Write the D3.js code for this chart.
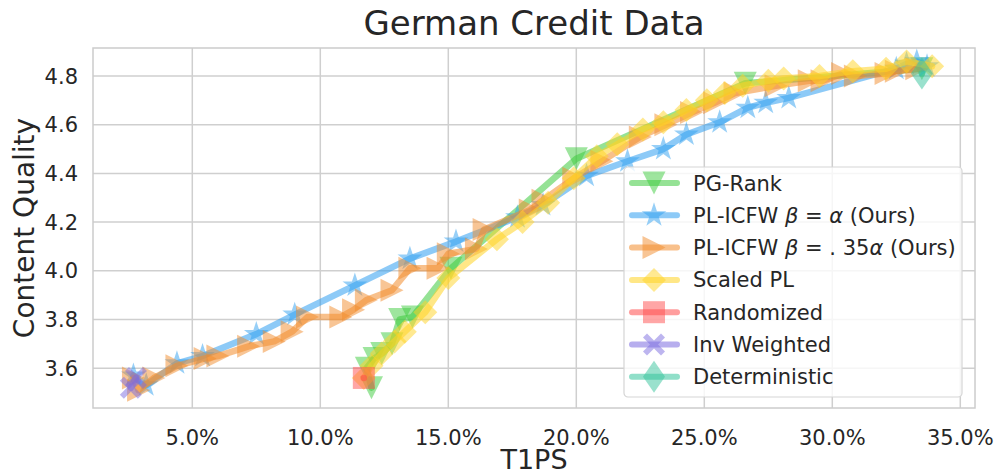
<!DOCTYPE html>
<html>
<head>
<meta charset="utf-8">
<script src="https://cdn.jsdelivr.net/npm/d3@7"></script>
<style>
  body { margin: 0; background: #fff; }
  text { font-family: "DejaVu Sans", sans-serif; fill: #262626; }
</style>
</head>
<body>
<div id="chart"></div>
<script>
// values (x in fraction, y content quality)
const seriesNames = ["PG-Rank", "PL-ICFW β=α (Ours)", "PL-ICFW β=.35α (Ours)", "Scaled PL",
  "Randomized", "Inv Weighted", "Deterministic"];

const pgRankX = [0.120, 0.118, 0.121, 0.124, 0.128, 0.131, 0.136, 0.151, 0.200, 0.266, 0.335];
const pgRankY = [3.52, 3.60, 3.64, 3.66, 3.70, 3.80, 3.81, 4.01, 4.46, 4.77, 4.83];

const icfwX = [0.027, 0.032, 0.044, 0.054, 0.075, 0.090, 0.1135, 0.135, 0.153, 0.177, 0.187,
  0.204, 0.220, 0.234, 0.243, 0.256, 0.267, 0.274, 0.283, 0.325, 0.329, 0.333, 0.337];
const icfwY = [3.57, 3.53, 3.62, 3.65, 3.74, 3.82, 3.94, 4.05, 4.12, 4.22, 4.27,
  4.39, 4.45, 4.50, 4.56, 4.61, 4.67, 4.69, 4.71, 4.83, 4.85, 4.86, 4.84];

const icfw35X = [0.027, 0.029, 0.035, 0.044, 0.055, 0.060, 0.072, 0.082, 0.089, 0.095, 0.108,
  0.113, 0.118, 0.128, 0.135, 0.146, 0.150, 0.161, 0.164, 0.182, 0.187, 0.199, 0.210, 0.225,
  0.235, 0.245, 0.254, 0.262, 0.278, 0.291, 0.296, 0.304, 0.309, 0.321, 0.325, 0.333];
const icfw35Y = [3.56, 3.51, 3.56, 3.61, 3.64, 3.65, 3.69, 3.71, 3.75, 3.81, 3.81,
  3.84, 3.88, 3.92, 4.01, 4.01, 4.07, 4.09, 4.17, 4.25, 4.29, 4.38, 4.45, 4.55,
  4.60, 4.65, 4.69, 4.73, 4.76, 4.78, 4.78, 4.81, 4.80, 4.81, 4.82, 4.83];

const scaledX = [0.117, 0.120, 0.124, 0.129, 0.133, 0.141, 0.150, 0.169, 0.179, 0.189, 0.199,
  0.208, 0.216, 0.226, 0.234, 0.243, 0.251, 0.258, 0.265, 0.275, 0.281, 0.295, 0.308, 0.321,
  0.329, 0.339];
const scaledY = [3.56, 3.61, 3.66, 3.71, 3.75, 3.83, 3.97, 4.13, 4.20, 4.28, 4.38,
  4.47, 4.52, 4.58, 4.61, 4.66, 4.70, 4.73, 4.76, 4.78, 4.79, 4.80, 4.82, 4.83,
  4.86, 4.84];

const randomX = [0.117];
const randomY = [3.56];

const invX = [0.026, 0.028];
const invY = [3.52, 3.56];

const detX = [0.335];
const detY = [4.81];

const seriesColors = ["#3ecb3e", "#2f9ff0", "#f28c2c", "#ffd324", "#ff4d4d", "#7b6be0", "#35c49c"];
const seriesMarkers = ["tridown", "star", "triright", "diamond", "square", "xfill", "thindiamond"];

const yTicks = [3.6, 3.8, 4.0, 4.2, 4.4, 4.6, 4.8];
const xTicks = [0.05, 0.10, 0.15, 0.20, 0.25, 0.30, 0.35];

const seriesData = [
  [pgRankX, pgRankY], [icfwX, icfwY], [icfw35X, icfw35Y], [scaledX, scaledY],
  [randomX, randomY], [invX, invY], [detX, detY]
].map(([xs, ys]) => xs.map((v, i) => ({ x: v, y: ys[i] })));

// layout
var width = 995, height = 475;
var margin = { top: 48, right: 20, bottom: 67, left: 93 };

var svg = d3.select("#chart").append("svg")
  .attr("width", width)
  .attr("height", height);

var x = d3.scaleLinear().domain([0.01121, 0.35574]).range([margin.left, width - margin.right]);
var y = d3.scaleLinear().domain([3.4366, 4.915]).range([height - margin.bottom, margin.top]);

// marker shapes
function markerPath(kind) {
  switch (kind) {
    case "tridown": { const r = 11.5; return `M${-r},${-r}L${r},${-r}L0,${r}Z`; }
    case "triright": { const r = 11.5; return `M${-r},${-r}L${r},0L${-r},${r}Z`; }
    case "diamond": { const r = 12; return `M0,${-r}L${r},0L0,${r}L${-r},0Z`; }
    case "thindiamond": return "M0,-16L11,0L0,16L-11,0Z";
    case "square": { const r = 11; return `M${-r},${-r}H${r}V${r}H${-r}Z`; }
    case "star": {
      const R = 13, ri = R * 0.382;
      let p = "";
      for (let k = 0; k < 10; k++) {
        const a = -Math.PI / 2 + k * Math.PI / 5, rr = k % 2 ? ri : R;
        p += (k ? "L" : "M") + (rr * Math.cos(a)).toFixed(2) + "," + (rr * Math.sin(a)).toFixed(2);
      }
      return p + "Z";
    }
    case "xfill": {
      const a = 11, w = 4;
      const pts = [[0, -w], [a - w, -a], [a, -a + w], [w, 0], [a, a - w], [a - w, a],
        [0, w], [-a + w, a], [-a, a - w], [-w, 0], [-a, -a + w], [-a + w, -a]];
      return "M" + pts.map(p => p.join(",")).join("L") + "Z";
    }
  }
}

// grid and frame
var grid = svg.append("g");
grid.selectAll(".gx").data(xTicks).join("line")
  .attr("x1", d => x(d)).attr("x2", d => x(d))
  .attr("y1", margin.top).attr("y2", height - margin.bottom)
  .attr("stroke", "#cfcfcf").attr("stroke-width", 1.5);
grid.selectAll(".gy").data(yTicks).join("line")
  .attr("x1", margin.left).attr("x2", width - margin.right)
  .attr("y1", d => y(d)).attr("y2", d => y(d))
  .attr("stroke", "#cfcfcf").attr("stroke-width", 1.5);
svg.append("rect")
  .attr("x", margin.left).attr("y", margin.top)
  .attr("width", width - margin.right - margin.left)
  .attr("height", height - margin.bottom - margin.top)
  .attr("fill", "none").attr("stroke", "#cccccc").attr("stroke-width", 1.5);

// axes labels
svg.append("g").selectAll("text").data(xTicks).join("text")
  .attr("x", d => x(d)).attr("y", height - margin.bottom + 37)
  .attr("text-anchor", "middle").attr("font-size", 21)
  .text(d => d3.format(".1%")(d));
svg.append("g").selectAll("text").data(yTicks).join("text")
  .attr("x", margin.left - 15).attr("y", d => y(d) + 7.5)
  .attr("text-anchor", "end").attr("font-size", 21)
  .text(d => d.toFixed(1));

svg.append("text")
  .attr("x", (margin.left + width - margin.right) / 2).attr("y", 35)
  .attr("text-anchor", "middle").attr("font-size", 34)
  .text("German Credit Data");
svg.append("text")
  .attr("x", (margin.left + width - margin.right) / 2).attr("y", 469)
  .attr("text-anchor", "middle").attr("font-size", 27)
  .text("T1PS");
svg.append("text")
  .attr("transform", `translate(34,${(margin.top + height - margin.bottom) / 2}) rotate(-90)`)
  .attr("text-anchor", "middle").attr("font-size", 28)
  .text("Content Quality");

// series
var plot = svg.append("g");
var line = d3.line().x(d => x(d.x)).y(d => y(d.y));
seriesData.forEach(function (dat, i) {
  var g = plot.append("g");
  g.append("path").datum(dat)
    .attr("d", line)
    .attr("fill", "none")
    .attr("stroke", seriesColors[i])
    .attr("stroke-opacity", 0.55)
    .attr("stroke-width", 6.5)
    .attr("stroke-linejoin", "round")
    .attr("stroke-linecap", "round");
  g.selectAll("path.m").data(dat).join("path")
    .attr("class", "m")
    .attr("transform", d => `translate(${x(d.x)},${y(d.y)})`)
    .attr("d", markerPath(seriesMarkers[i]))
    .attr("fill", seriesColors[i])
    .attr("fill-opacity", 0.5);
});

// legend
var leg = svg.append("g").attr("transform", "translate(624,167)");
leg.append("rect")
  .attr("width", 338).attr("height", 230).attr("rx", 4)
  .attr("fill", "#ffffff").attr("fill-opacity", 0.8)
  .attr("stroke", "#d5d5d5").attr("stroke-width", 1.2);
var legendLabels = [
  ["PG-Rank"],
  ["PL-ICFW ", "β", " = ", "α", " (Ours)"],
  ["PL-ICFW ", "β", " = . 35", "α", " (Ours)"],
  ["Scaled PL"], ["Randomized"], ["Inv Weighted"], ["Deterministic"]
];
seriesNames.forEach(function (name, i) {
  var row = leg.append("g").attr("transform", `translate(0,${16 + i * 32.3})`);
  row.append("line").attr("x1", 8).attr("x2", 53)
    .attr("stroke", seriesColors[i]).attr("stroke-opacity", 0.55)
    .attr("stroke-width", 6).attr("stroke-linecap", "round");
  row.append("path").attr("transform", "translate(30,0)")
    .attr("d", markerPath(seriesMarkers[i]))
    .attr("fill", seriesColors[i]).attr("fill-opacity", 0.5);
  var t = row.append("text").attr("x", 69).attr("y", 7.5).attr("font-size", 21);
  legendLabels[i].forEach(function (part) {
    var sp = t.append("tspan").text(part);
    if (part === "β" || part === "α") sp.attr("font-style", "italic");
  });
});
</script>
</body>
</html>
